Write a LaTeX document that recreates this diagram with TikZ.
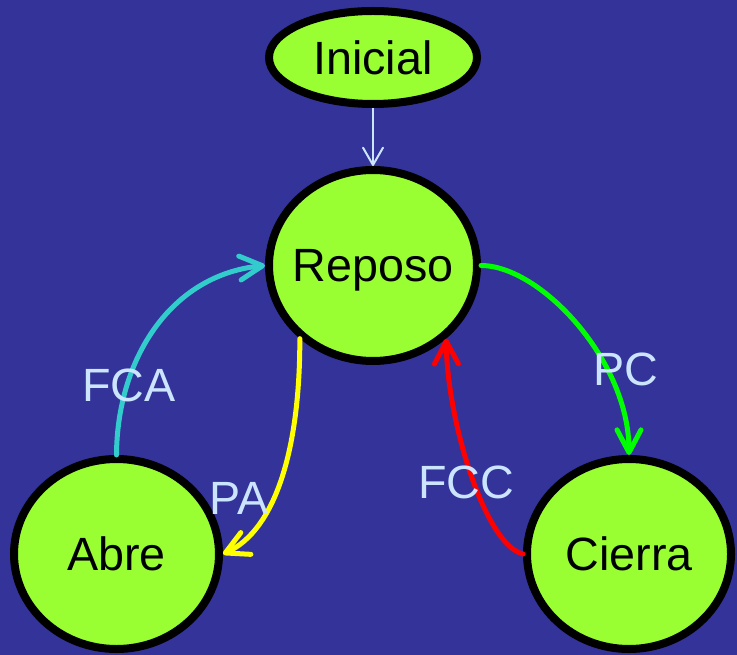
\documentclass[tikz,border=0pt]{standalone}
\usepackage{fontspec}
\setmainfont{Liberation Sans}
\usetikzlibrary{shapes.geometric,arrows.meta}
\definecolor{bgblue}{RGB}{51,51,153}
\definecolor{stategreen}{RGB}{153,255,51}
\definecolor{lbl}{RGB}{204,229,255}
\definecolor{teal2}{RGB}{51,204,204}
\definecolor{grn}{RGB}{0,255,0}
\definecolor{ylw}{RGB}{255,255,0}
\definecolor{rd}{RGB}{255,0,0}
\tikzset{
  state/.style={ellipse, draw=black, line width=6pt, fill=stategreen,
    inner ysep=0pt, inner xsep=-10pt, text depth=0pt, font=\fontsize{35}{40}\selectfont},
  lab/.style={text=lbl, inner sep=0pt, text depth=0pt, font=\fontsize{35}{40}\selectfont},
  conn/.style={line width=3.75pt, line cap=round,
    -{Straight Barb[length=17pt,width=18pt,round]}},
}
\begin{document}
\begin{tikzpicture}[x=0.75pt,y=-0.75pt]
\fill[bgblue] (0,0) rectangle (737,655);
\useasboundingbox (0,0) rectangle (737,655);
\node[state, minimum width=156pt, minimum height=69.75pt] (ini) at (373,57.5) {Inicial};
\node[state, minimum width=156pt, minimum height=143.25pt] (rep) at (373,265.5) {Reposo};
\node[state, minimum width=153.75pt, minimum height=142.5pt] (abre) at (116.5,554) {Abre};
\node[state, minimum width=153pt, minimum height=142.5pt] (cie) at (629,554) {Cierra};

\draw[lbl, line width=1.5pt, -{Straight Barb[length=13pt,width=15pt,round]}] (ini.south) -- (rep.north);
\draw[conn, teal2] (abre.north) .. controls (117,360) and (170,275) .. (rep.west);
\draw[conn, ylw] (rep.225) .. controls (300,450) and (275,530) .. (abre.east);
\draw[conn, grn] (rep.east) .. controls (540,265.5) and (629,360) .. (cie.north);
\draw[conn, rd] (cie.west) .. controls (485,545) and (447,420) .. (rep.-45);

\node[lab] (lfca) at (129,385) {FCA};
\node[lab] (lpa) at (239,498) {PA};
\node[lab] (lpc) at (626,369) {PC};
\node[lab] (lfcc) at (466,482) {FCC};
\end{tikzpicture}
\end{document}
